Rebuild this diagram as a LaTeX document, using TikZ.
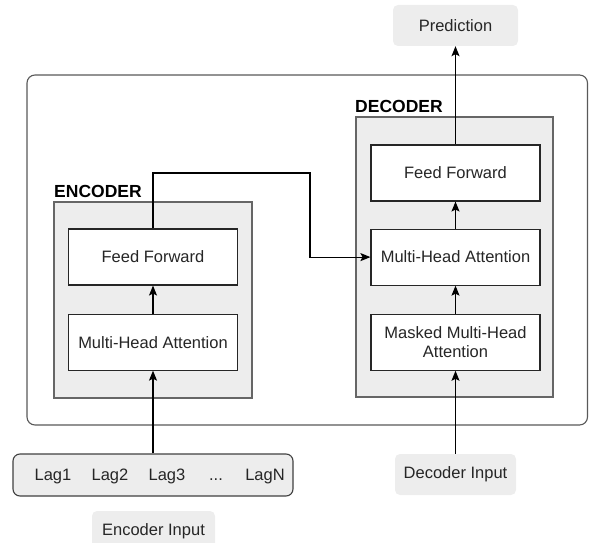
\documentclass[tikz,border=0pt]{standalone}
\usepackage{fontspec}
\setmainfont{Liberation Sans}
\usetikzlibrary{positioning,arrows.meta}

\begin{document}
\begin{tikzpicture}[
    x=1pt, y=-1pt,
    node distance=28pt,
    font=\fontsize{16.5}{19}\selectfont,
    block/.style={rectangle, draw=black!85, fill=white, line width=1.1pt, minimum width=169pt, minimum height=56pt, align=center, inner sep=2pt, text=black!85},
    group/.style={rectangle, draw=black!60, fill=black!7, line width=1.1pt},
    tag/.style={rectangle, fill=black!7, rounded corners=5pt, minimum height=41pt, align=center, text=black!85},
    title/.style={font=\fontsize{17.5}{20}\selectfont\bfseries, anchor=base west, inner sep=0pt},
    lagtext/.style={inner sep=0pt, anchor=base, text=black!85},
    arrow/.style={-{Stealth[length=10pt, width=8pt, inset=2pt]}, line width=1.1pt, draw=black},
]
\useasboundingbox (0,0) rectangle (589,543);

% outer frame
\draw[black!65, line width=1.1pt, rounded corners=8pt, fill=white] (27,75) rectangle (587.5,425);

% encoder and decoder groups
\node[group, minimum width=198pt, minimum height=196pt] (encgroup) at (153,300) {};
\node[group, minimum width=197pt, minimum height=280pt] (decgroup) at (454.5,257) {};
\node[title] (enctitle) at (54,197) {ENCODER};
\node[title] (dectitle) at (355,112) {DECODER};

% encoder blocks
\node[block] (encff) at (153,257) {Feed Forward};
\node[block, below=of encff] (encmha) {Multi-Head Attention};

% decoder blocks
\node[block] (decff) at (455.5,173) {Feed Forward};
\node[block, below=27pt of decff] (decmha) {Multi-Head Attention};
\node[block, below=of decmha] (masked) {Masked Multi-Head\\Attention};

% inputs and output
\node[rectangle, draw=black!75, fill=black!7, line width=1.1pt, rounded corners=7pt, minimum width=280pt, minimum height=42pt] (lags) at (153,475) {};
\node[lagtext] (lag1) at (53,480) {Lag1};
\node[lagtext] (lag2) at (110,480) {Lag2};
\node[lagtext] (lag3) at (167,480) {Lag3};
\node[lagtext] (dots) at (216,480) {...};
\node[lagtext] (lagn) at (265,480) {LagN};
\node[tag, minimum width=123pt] (encin) at (153.5,531.5) {Encoder Input};
\node[tag, minimum width=121pt] (decin) at (455.5,474.5) {Decoder Input};
\node[tag, minimum width=125pt] (pred) at (455.5,25.5) {Prediction};

\coordinate (bend) at (310,173);

\draw[arrow] (lags) -- (encmha);
\draw[arrow] (encmha) -- (encff);
\draw[arrow] (encff.north) |- (bend) |- (decmha.west);
\draw[arrow] (decin) -- (masked);
\draw[arrow] (masked) -- (decmha);
\draw[arrow] (decmha) -- (decff);
\draw[arrow] (decff) -- (pred);

\end{tikzpicture}
\end{document}
